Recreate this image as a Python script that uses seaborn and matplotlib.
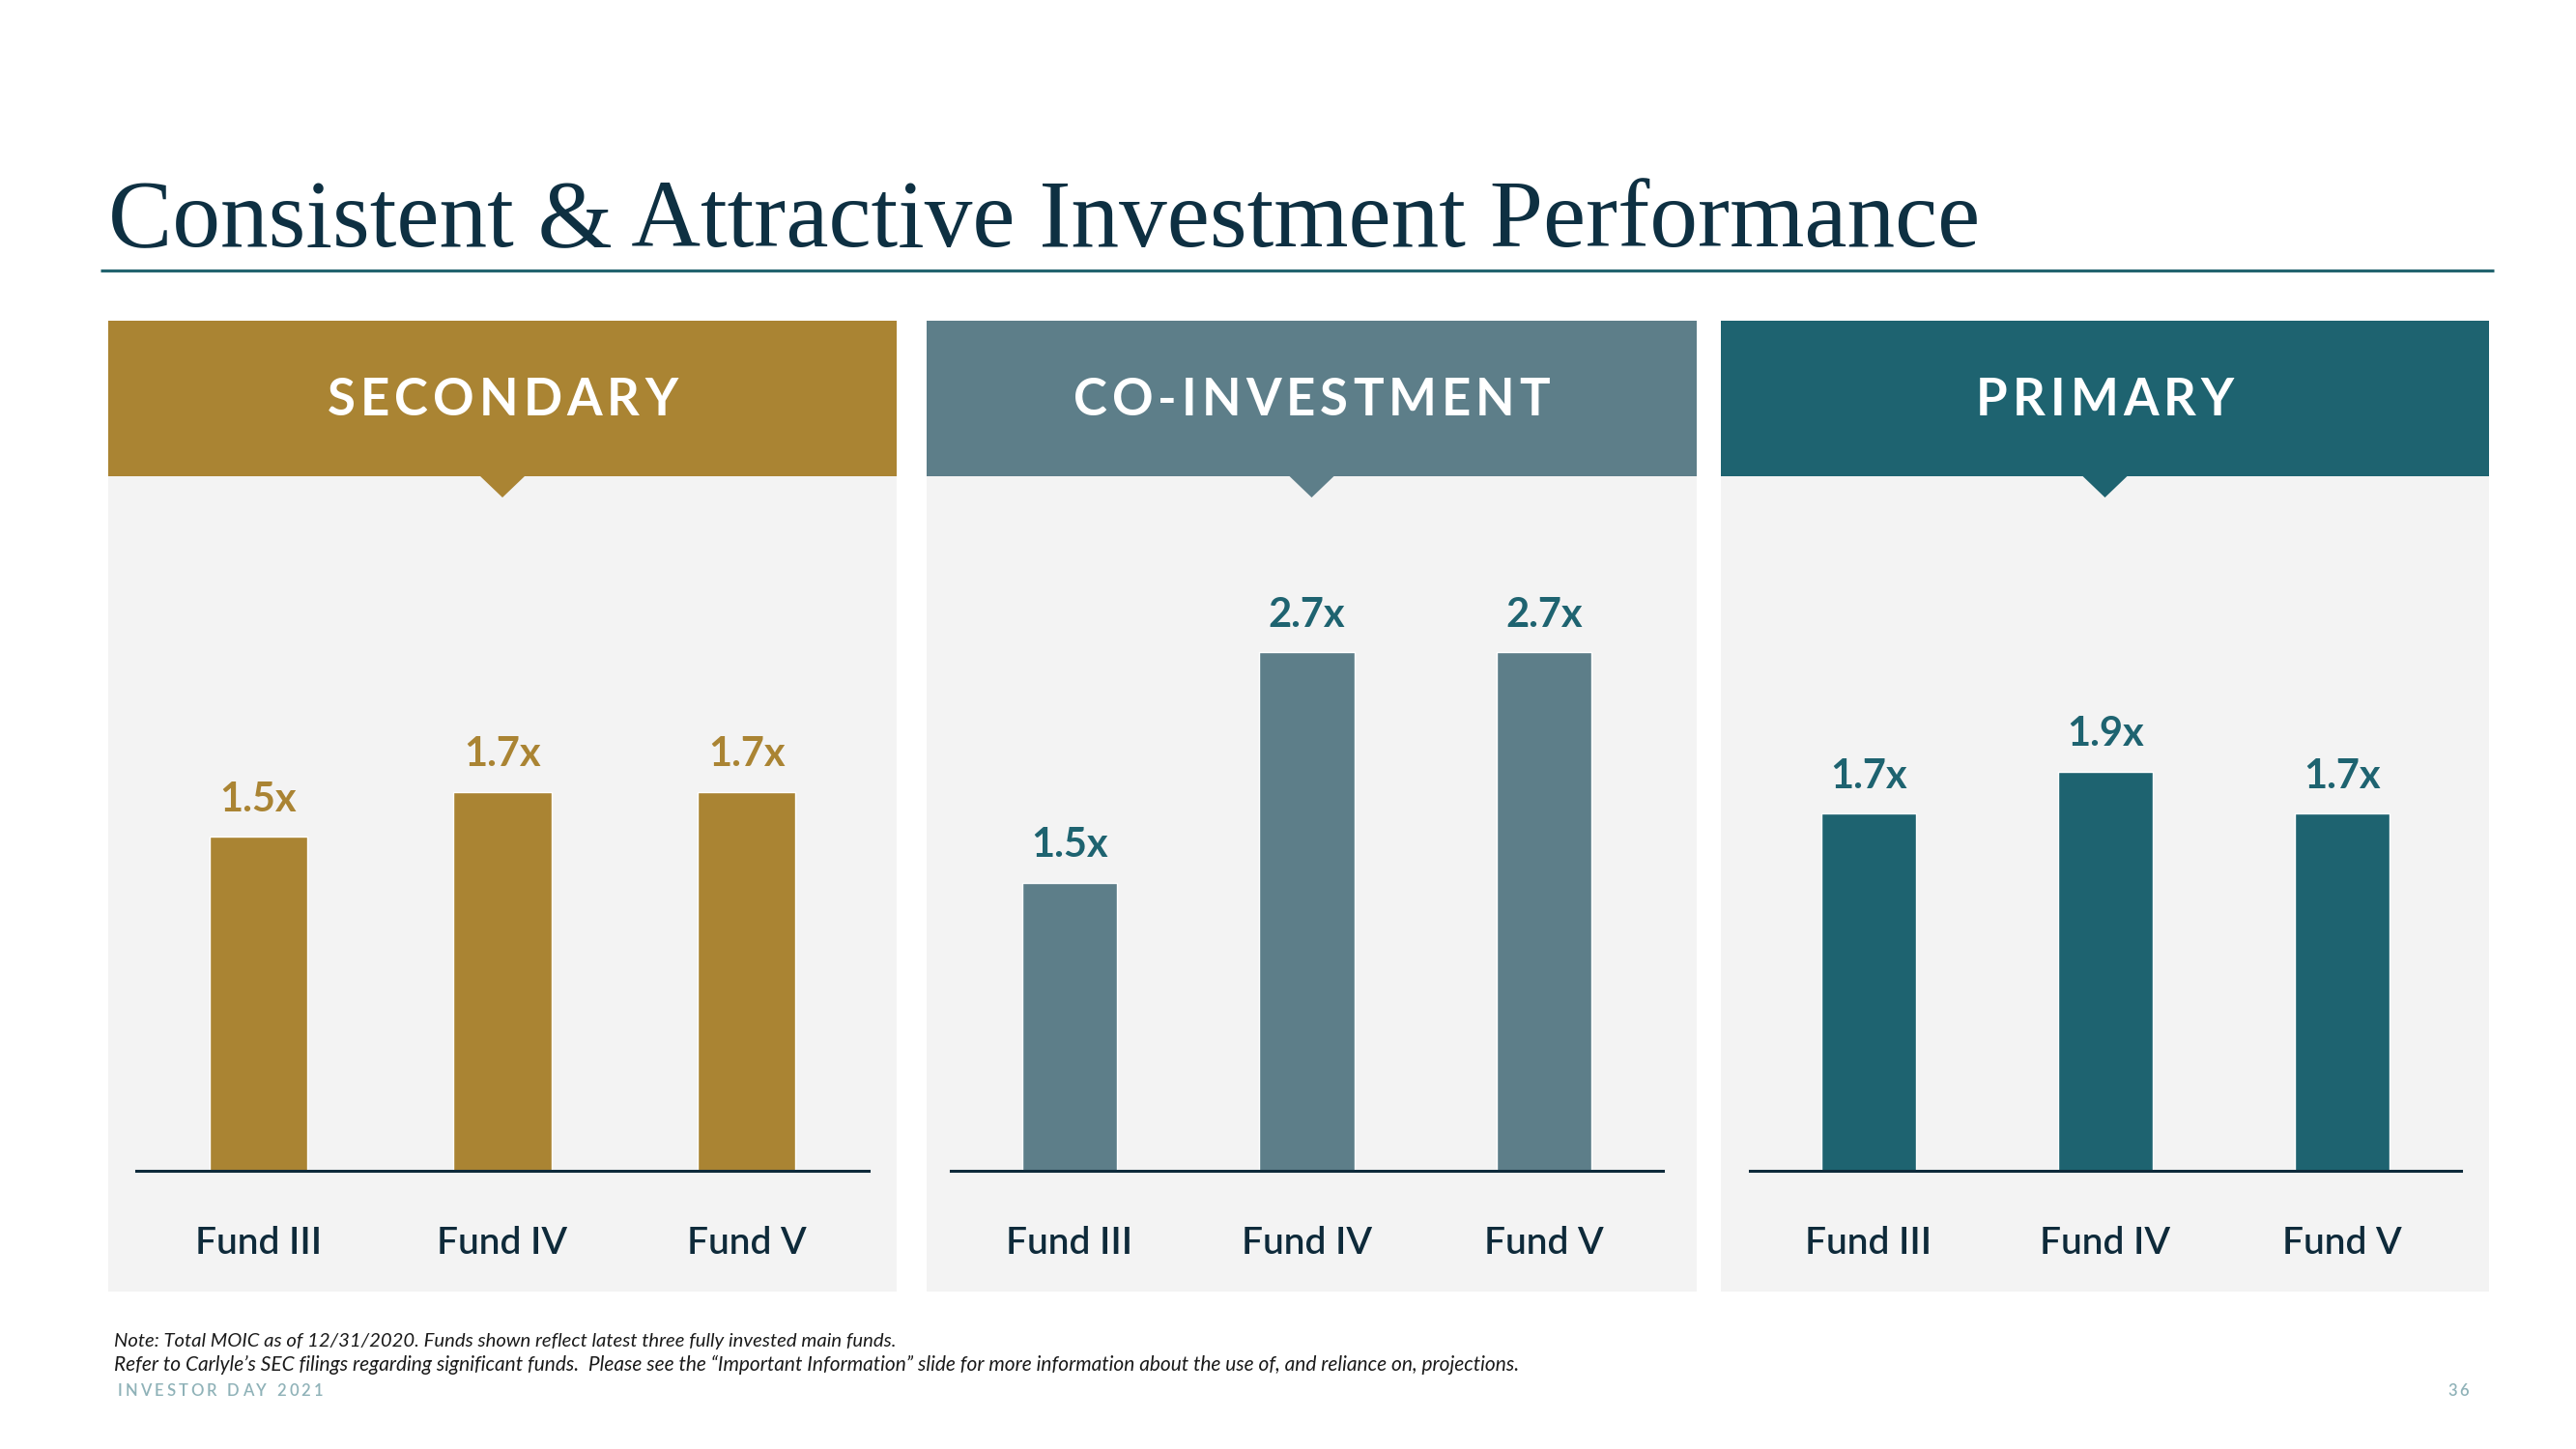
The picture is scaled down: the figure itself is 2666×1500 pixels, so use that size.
import numpy as np
import pandas as pd
import seaborn as sns
import matplotlib.pyplot as plt
from matplotlib.patches import Rectangle, Polygon

# values
funds = ['Fund III', 'Fund IV', 'Fund V']
strategies = ['SECONDARY', 'CO-INVESTMENT', 'PRIMARY']
secondary = [1.5, 1.7, 1.7]
co_investment = [1.5, 2.7, 2.7]
primary = [1.7, 1.9, 1.7]

title = 'Consistent & Attractive Investment Performance'
note_1 = 'Note: Total MOIC as of 12/31/2020. Funds shown reflect latest three fully invested main funds.'
note_2 = ('Refer to Carlyle\u2019s SEC filings regarding significant funds.  Please see the '
          '\u201cImportant Information\u201d slide for more information about the use of, '
          'and reliance on, projections.')
footer = 'INVESTOR DAY 2021'
page = '36'

gold = '#AA8433'
slate = '#5D7E89'
teal = '#1E6370'
navy = '#0E3042'
ink = '#0E2A3A'
panel_grey = '#F3F3F3'
footer_col = '#8FB2B8'

bar_cols = [gold, slate, teal]
label_cols = [gold, teal, teal]

W, H = 2666, 1500

data = pd.DataFrame({
    'strategy': np.repeat(strategies, len(funds)),
    'fund': funds * len(strategies),
    'moic': secondary + co_investment + primary,
})

sns.set_theme(style='white')
plt.rcParams['font.family'] = ['Lato', 'DejaVu Sans']

fig = plt.figure(figsize=(W / 100, H / 100), dpi=100)
fig.patch.set_facecolor('white')

# full-figure axes in pixel coordinates for the slide furniture
bg = fig.add_axes([0, 0, 1, 1])
bg.set_xlim(0, W)
bg.set_ylim(H, 0)
bg.axis('off')
renderer = fig.canvas.get_renderer()


def fit_text(x, y, s, width, size, **kw):
    # scale the font so the string spans the width seen on the slide
    t = bg.text(x, y, s, fontsize=size, ha='left', va='baseline', **kw)
    w = t.get_window_extent(renderer).width
    t.set_fontsize(size * width / w)
    return t


def spaced_text(x, y, s, size, track, align='center', **kw):
    # letter-spaced text, one glyph at a time
    widths = []
    for ch in s:
        t = bg.text(0, 0, 'n' if ch == ' ' else ch, fontsize=size, **kw)
        w = t.get_window_extent(renderer).width
        t.remove()
        widths.append(w * 0.5 if ch == ' ' else w)
    total = sum(widths) + track * (len(s) - 1)
    cx = x - total / 2 if align == 'center' else x
    for ch, w in zip(s, widths):
        if ch != ' ':
            bg.text(cx, y, ch, fontsize=size, ha='left', va='baseline', **kw)
        cx += w + track


# title and rule
fit_text(112, 255, title, 1937, 72, family=['Liberation Serif', 'DejaVu Serif'], color=navy)
bg.plot([104, 2581], [280, 280], color='#23646F', lw=2.3, solid_capstyle='butt')

# panel backgrounds, headers and pointer triangles
panels = [(112, 928), (959, 1756), (1781, 2576)]
for (x0, x1), name, col in zip(panels, strategies, bar_cols):
    xc = (x0 + x1) / 2
    bg.add_patch(Rectangle((x0, 493), x1 - x0, 1337 - 493, color=panel_grey, lw=0))
    bg.add_patch(Rectangle((x0, 332), x1 - x0, 493 - 332, color=col, lw=0))
    bg.add_patch(Polygon([(xc - 24, 492), (xc + 24, 492), (xc, 515)], color=col, lw=0))
    spaced_text(xc, 430, name, 38, 5, color='white', fontweight='bold')

# bar charts
chart_x = [(141, 899), (984, 1721), (1811, 2547)]
y_top = [3.0, 3.48, 3.18]
base_px, chart_h = 1212, 692
for (x0, x1), name, col, lcol, top in zip(chart_x, strategies, bar_cols, label_cols, y_top):
    sub = data[data['strategy'] == name]
    ax = fig.add_axes([x0 / W, (H - base_px) / H, (x1 - x0) / W, chart_h / H])
    sns.barplot(data=sub, x='fund', y='moic', color=col, width=0.4,
                saturation=1, errorbar=None, ax=ax)
    ax.set_xlim(-0.5, 2.5)
    ax.set_ylim(0, top)
    ax.patch.set_alpha(0)
    for side in ['top', 'right', 'left']:
        ax.spines[side].set_visible(False)
    ax.spines['bottom'].set_color(ink)
    ax.spines['bottom'].set_linewidth(2.2)
    ax.set_yticks([])
    ax.set_xlabel('')
    ax.set_ylabel('')
    ax.tick_params(axis='x', length=0, pad=41, labelsize=28, labelcolor=ink)
    for lab in ax.get_xticklabels():
        lab.set_fontweight('semibold')
    ax.bar_label(ax.containers[0], labels=[f'{v:.1f}x' for v in sub['moic']],
                 padding=14, fontsize=30, fontweight='bold', color=lcol, clip_on=False)

# footnotes
fit_text(118, 1394, note_1, 808, 11, color='#1A1A1A', style='italic')
fit_text(118, 1419, note_2, 1456, 11, color='#1A1A1A', style='italic')
spaced_text(122, 1445, footer, 12, 3, align='left', color=footer_col, fontweight='semibold')
spaced_text(2533, 1445, page, 12, 3, align='left', color=footer_col, fontweight='semibold')

fig.savefig('out.png', dpi=100, facecolor='white')
